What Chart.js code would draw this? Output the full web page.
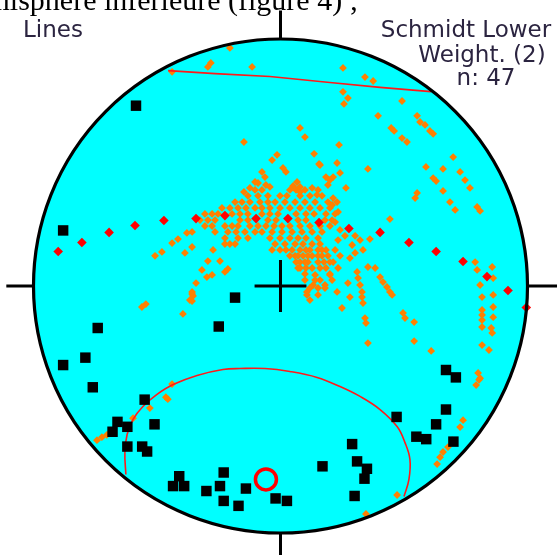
<!DOCTYPE html>
<html>
<head>
<meta charset="utf-8">
<script src="https://cdn.jsdelivr.net/npm/chart.js@4/dist/chart.umd.min.js"></script>
<style>
html,body{margin:0;padding:0;background:#fff}
#wrap{position:relative;width:557px;height:555px}
</style>
</head>
<body>
<div id="wrap"><canvas id="net"></canvas></div>
<script>
// stereonet coords, unit = % of net radius (centre 0,0)
const titleText = 'hémisphère inférieure (figure 4) ;'
const netLabels = ['Lines', 'Schmidt Lower', 'Weight. (2)', 'n: 47']

const blackPoles = [
  [-58.5,73],[-88,22.5],[-18.4,-4.7],[-25,-16.4],[-74,-17],[-79,-29],[-88,-32],[-76,-41],
  [-55,-46],[-66,-55],[-62,-57],[-68,-59],[-51,-56],[-62,-65],[-56,-65],[-54,-67],
  [-41,-77],[-43.5,-81],[-39,-81],[-23,-75.5],[-24.5,-81],[-30,-83],[-23,-87],[-17,-89],
  [-14,-82],[-2,-86],[2.6,-87],[17,-73],[29,-64],[31,-71],[35,-74],[34,-78],[30,-85],
  [47,-53],[55,-61],[59,-62],[63,-56],[67,-50],[70,-63],[67,-34],[71,-37]
]

const redDiamonds = [
  [-90,14],[-80.4,17.6],[-69.4,21.7],[-58.9,24.5],[-47.2,26.5],[-34.2,27.3],[-22.5,28.5],[-9.9,27.3],
  [3,27.3],[15.6,25.7],[27.7,23.3],[40.3,21.7],[52,17.6],[63,14],[73.9,9.9],[83.6,3.8],[92.1,-1.8],[99.5,-8.7]
]

const greatCircle = [[-45.5,87.2],[-26.5,86],[-4.3,84.8],[20,82.4],[40.3,80.4],[60.9,78.7]]

const smallCircle = [
  [-62.6,-76.3],[-63,-67.4],[-62.1,-60.1],[-59.7,-54],[-55.7,-48.8],[-50,-43.9],[-43.5,-39.9],
  [-33.8,-36.2],[-23.3,-33.8],[-16.4,-33.4],[-6.3,-33.4],[3.8,-34.6],[14.8,-37],[24.1,-40.7],
  [32.2,-44.7],[40.3,-50],[47.2,-56.9],[50.4,-63.4],[52.4,-70.2],[52,-78.3],[50,-85.2]
]

const meanPole = [[-5.9,-78.3]]

const orangePoles = [
  // upper sparse
  [-43.9,86.7],[-29.4,88.7],[-28.2,90.3],[-20.5,96.4],[-11.5,88.7],[7.9,64],[9.9,60.3],[-14.8,58.3],
  [13.6,53.5],[15.6,49.4],[-1.4,53.1],[-3.4,51],[1,47.8],[2.2,46.2],[-7.5,46.2],[-6.3,44.1],
  [-10.3,42.1],[-4.3,40.1],[6.7,42.1],[7.9,40.1],[12.8,39.7],[14.8,36.9],
  [25.3,88.3],[34.2,84.6],[37.5,83],[25.3,78.6],[27.3,76.1],[25.7,73.7],[49.2,74.9],[39.5,68.9],
  [55.3,68.9],[56.5,66.4],[58.5,65.2],[60.5,62.8],[61.8,61.6],[44.8,64],[46,62.8],[49.2,59.9],[51.2,58.3],
  [23.7,57.1],[22.9,49.8],[35.4,47.4],[58.9,48.2],[69.9,52.2],[65.8,47.4],[72.7,46.2],[74.7,42.9],[76.7,39.7],
  [61.8,43.7],[63,42.5],[65.8,38.5],[55.3,37.7],[54.5,35.6],[68.6,34],[70.7,30.8],[79.6,32],[80.8,30.4],
  [44.3,27.1],[16,49],[18.4,44.1],[20,42.9],[19.2,40.9],[21.3,44.1],[24.1,45.8],[26.5,39.7],
  [21.3,35.6],[22.9,34],[20.9,32.8],[23.3,30],
  [-9.1,41.7],[-5.9,40.9],[5.1,40.5],[7.9,38.1],[-12.4,39.7],[-14.8,38.1],
  // right of the cluster
  [36.2,19],[33.4,14.6],[30.2,13.4],[28.1,11.3],[31,5.7],[31.4,3.2],[32.2,0.4],[33,-2.4],[33,-4.5],[33.4,-6.9],
  [35.4,7.7],[38.3,7.3],[40.3,3.6],[41.5,1.6],[43.1,-0.4],[44.3,-2.4],[45.2,-3.6],[27.3,1.2],[28.1,-4.5],
  [24.9,-8.9],[34.2,-13],[34.6,-15],[49.6,-10.9],[50.4,-13],[54.1,-14.6],[35.4,-23.1],[54.1,-22.3],[61,-26.3],
  [10.7,-2.4],[11.9,-5.7],[22.9,-2.4],
  [22.1,25.9],[24.1,22.7],[26.1,20.3],[23.3,18.6],[30.2,20.3],[32.2,18.6],[29,16.6],[22.1,14.6],
  [24.1,12.2],[21.3,9.7],[23.3,7.3],[20,4.5],[20.9,2.4],[18,0.4],
  // east column
  [78.8,9.7],[79.6,6.5],[85.7,7.7],[86.1,3.2],[80.8,0.4],[81.6,-4.5],[86.1,-3.6],[81.6,-9.7],[81.6,-11.7],
  [81.6,-13.8],[81.6,-16.6],[86.1,-8.5],[86.1,-12.6],[85.3,-17],[85.7,-19],[81.6,-23.9],[84.4,-25.9],
  [80,-35.2],[80.8,-37.3],[79.2,-40.1],[80.4,-38],
  // lower right
  [73.9,-54.3],[72.7,-57.1],[69.5,-62.4],[67.8,-65.2],[65.8,-67.2],[64.6,-69.3],[63.4,-72.1],[47.2,-84.6],[34.6,-92.3],
  // lower left
  [-54.5,-7.3],[-56.1,-8.5],[-39.5,-11.3],[-35.8,-6.1],[-35.8,-3.2],[-43.9,-39.7],[-46.4,-45],[-45.6,-45.8],
  [-52.9,-49.4],[-59.7,-53.5],[-74.3,-62.4],[-72.3,-61.2],[-70.3,-60.3],[-69,-59.5],
  // west tail
  [-50.8,12.2],[-48,13.8],[-43.9,17.4],[-41.5,19],[-37.9,21.5],[-35.8,21.9],[-38.7,13.4],[-35.8,15.8],
  [-29.4,10.1],[-24.5,10.1],[-27.3,14.6],[-31.8,6.5],[-29.8,3.6],[-27.7,4.5],[-22.5,5.7],[-21.3,6.9],
  [-34.2,1.2],[-35.8,-2.4],[-35.4,-4],[-36.7,-5.7],
  [11.9,-0.8],[13.2,0.4],[7.1,7.3],[14,4.5],[16,2.4],
  // main cluster
  [-10.3,38.9],[-7.5,38.9],[3.8,38.9],[6.3,38.9],[9.9,38.9],[15.2,38.9],
  [-13.2,36.5],[-9.1,36.5],[-5.1,36.5],[-0.2,36.5],[2.6,36.5],[7.9,36.5],[11.9,36.5],[16.8,36.5],
  [-18.4,34],[-15.6,34],[-12.4,34],[-8.3,34],[-5.1,34],[-2.2,34],[1.8,34],[5.9,34],[9.9,34],[14,34],[19.2,34],
  [-23.7,31.6],[-20.5,31.6],[-17.2,31.6],[-14,31.6],[-10.3,31.6],[-7.5,31.6],[-4.3,31.6],[-0.2,31.6],
  [3.8,31.6],[7.9,31.6],[11.9,31.6],[16,31.6],[20,31.6],
  [-30.6,29.2],[-27.7,29.2],[-25.3,29.2],[-19.6,29.2],[-16.4,29.2],[-13.2,29.2],[-7.5,29.2],[-4.3,29.2],
  [-1,29.2],[6.3,29.2],[10.3,29.2],[13.6,29.2],[18.4,29.2],[22.1,29.2],
  [-32.6,26.7],[-29.4,26.7],[-26.5,26.7],[-16.4,26.7],[-13.2,26.7],[-5.1,26.7],[-1.8,26.7],[7.1,26.7],
  [10.3,26.7],[18,26.7],[20.9,26.7],
  [-30.6,24.3],[-27.7,24.3],[-22.5,24.3],[-19.6,24.3],[-17.2,24.3],[-12.4,24.3],[-9.1,24.3],[-5.9,24.3],
  [-2.6,24.3],[0.6,24.3],[3.8,24.3],[7.9,24.3],[11.9,24.3],[16,24.3],[20,24.3],
  [-26.5,21.9],[-21.3,21.9],[-18,21.9],[-14.4,21.9],[-10.3,21.9],[-7.5,21.9],[-3.4,21.9],[0.6,21.9],
  [4.7,21.9],[8.7,21.9],[12.8,21.9],[16.8,21.9],
  [-22.5,19.4],[-17.2,19.4],[-13.2,19.4],[-4.3,19.4],[-0.2,19.4],[3.8,19.4],[7.1,19.4],[10.3,19.4],[15.2,19.4],
  [-22.5,17],[-18.4,17],[-20.5,17],[-2.2,17],[1.8,17],[5.9,17],[9.1,17],[12.8,17],[16,17],
  [-3.4,14.6],[2.2,14.6],[10.3,14.6],[16.8,14.6],
  [-0.2,14.6],[4.7,14.6],[7.9,14.6],[11.9,14.6],[15.2,14.6],[18.4,14.6],
  [3.8,12.2],[7.1,12.2],[11.1,12.2],[15.2,12.2],[19.2,12.2],
  [5.9,12.2],[9.1,12.2],[12.8,12.2],[16.8,12.2],
  [6.3,9.7],[9.9,9.7],[17.6,9.7],
  [7.9,9.7],[11.1,9.7],[15.2,9.7],[20,9.7],
  [7.9,7.3],[12.8,7.3],[18.4,7.3],
  [10.3,7.3],[16,7.3],[9.9,4.9],[20,4.9],[9.9,2.4],[14,2.4],[15.2,-0.8],[18,-0.8],[10.7,-3.6],[15.2,-3.6]
]

const netTicks = [
  [0,100],[0,111.5],null,[0,-100],[0,-112],null,[-100,0],[-111,0],null,[100,0],[113,0],null,
  [-10.5,0],[10.5,0],null,[0,-10.5],[0,10.5]
]

const pts = a => a.map(p => p ? {x:p[0], y:p[1]} : {x:0, y:null})

const netDisk = {
  id:'netDisk',
  beforeDatasetsDraw(chart){
    const {ctx, scales:{x, y}} = chart
    const cx = x.getPixelForValue(0), cy = y.getPixelForValue(0)
    const r = x.getPixelForValue(100) - cx
    ctx.save()
    ctx.beginPath(); ctx.arc(cx, cy, r, 0, Math.PI*2)
    ctx.fillStyle = '#00ffff'; ctx.fill()
    ctx.restore()
  },
  afterDatasetsDraw(chart){
    const {ctx, scales:{x, y}} = chart
    const cx = x.getPixelForValue(0), cy = y.getPixelForValue(0)
    const r = x.getPixelForValue(100) - cx
    ctx.save()
    ctx.beginPath(); ctx.arc(cx, cy, r, 0, Math.PI*2)
    ctx.lineWidth = 3.2; ctx.strokeStyle = '#000'; ctx.stroke()
    // captions
    ctx.fillStyle = '#000'
    ctx.font = '30px "Liberation Serif", serif'
    ctx.textAlign = 'right'; ctx.textBaseline = 'alphabetic'
    ctx.fillText(titleText, 358, 10)
    ctx.fillStyle = '#2b2440'
    ctx.font = '23px "DejaVu Sans", sans-serif'
    ctx.textAlign = 'left'
    ctx.fillText(netLabels[0], 23, 37)
    ctx.textAlign = 'center'
    ctx.fillText(netLabels[1], 466, 37)
    ctx.fillText(netLabels[2], 482, 62)
    ctx.fillText(netLabels[3], 486, 85)
    ctx.restore()
  }
}

new Chart(document.getElementById('net'), {
  type:'scatter',
  data:{
    datasets:[
      {data:pts(netTicks), showLine:true, borderColor:'#000', borderWidth:3, pointRadius:0, spanGaps:false, order:6},
      {data:pts(orangePoles), pointStyle:'rectRot', radius:3.9, backgroundColor:'#ff8000', borderWidth:0, order:5},
      {data:pts(greatCircle), showLine:true, borderColor:'#ff1a1a', borderWidth:1.6, pointRadius:0, order:4},
      {data:pts(smallCircle), showLine:true, tension:0.4, borderColor:'#ff1a1a', borderWidth:1.6, pointRadius:0, order:4},
      {data:pts(redDiamonds), pointStyle:'rectRot', radius:4.8, backgroundColor:'#ff0000', borderWidth:0, order:3},
      {data:pts(blackPoles), pointStyle:'rect', radius:7.4, backgroundColor:'#000', borderWidth:0, order:2},
      {data:pts(meanPole), pointStyle:'circle', radius:10.5, backgroundColor:'rgba(0,0,0,0)', borderColor:'#ff0000', borderWidth:3.5, order:1}
    ]
  },
  options:{
    responsive:true, maintainAspectRatio:false, animation:false,
    layout:{padding:0, autoPadding:false},
    plugins:{legend:{display:false}, tooltip:{enabled:false}},
    scales:{
      x:{type:'linear', min:-113.56, max:111.94, display:false},
      y:{type:'linear', min:-108.9, max:115.79, display:false}
    }
  },
  plugins:[netDisk]
})
</script>
</body>
</html>
